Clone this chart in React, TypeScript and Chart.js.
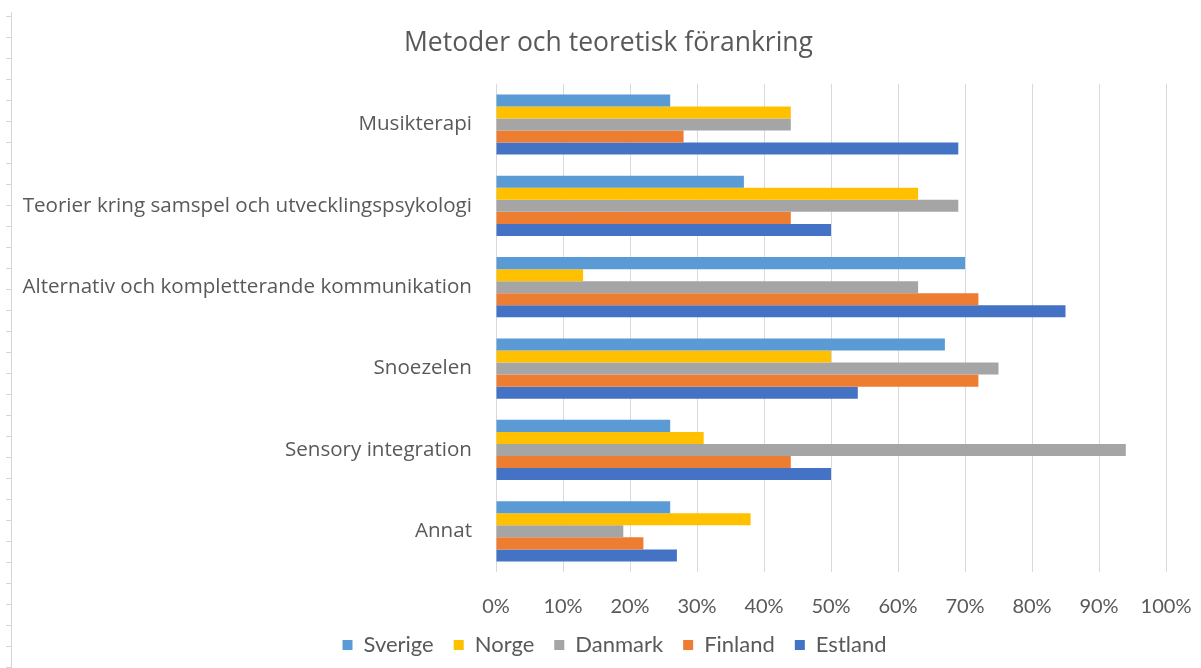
import React, { useEffect, useRef } from "react";
import { Chart, registerables } from "chart.js";

Chart.register(...registerables);

const categories = [
  "Musikterapi",
  "Teorier kring samspel och utvecklingspsykologi",
  "Alternativ och kompletterande kommunikation",
  "Snoezelen",
  "Sensory integration",
  "Annat",
];

const sverige = [26, 37, 70, 67, 26, 26];
const norge = [44, 63, 13, 50, 31, 38];
const danmark = [44, 69, 63, 75, 94, 19];
const finland = [28, 44, 72, 72, 44, 22];
const estland = [69, 50, 85, 54, 50, 27];

const seriesNames = ["Sverige", "Norge", "Danmark", "Finland", "Estland"];
const seriesColors = ["#5B9BD5", "#FFC000", "#A5A5A5", "#ED7D31", "#4472C4"];
const xTicks = [0, 10, 20, 30, 40, 50, 60, 70, 80, 90, 100];

const titleText = "Metoder och teoretisk förankring";
const LATO = "Lato, 'Open Sans', sans-serif";
const OPEN = "'Open Sans', Lato, sans-serif";
const TEXT = "#595959";

const edgePlugin = {
  id: "edgeLine",
  afterLayout(chart: any) {
    // shift legend and title to be centred like the reference
    if (chart.legend) {
      chart.legend.left += 14;
      chart.legend.right += 14;
    }
    if (chart.titleBlock) {
      chart.titleBlock.left += 8;
      chart.titleBlock.right += 8;
    }
  },
  afterDraw(chart: any) {
    const ctx = chart.ctx;
    ctx.save();
    ctx.strokeStyle = "#d6d6d6";
    ctx.lineWidth = 1;
    ctx.beginPath();
    ctx.moveTo(11.5, 12);
    ctx.lineTo(11.5, chart.height);
    for (let y = 16; y < chart.height; y += 21) {
      ctx.moveTo(6, y + 0.5);
      ctx.lineTo(11, y + 0.5);
    }
    ctx.stroke();
    ctx.restore();
  },
};

export default function App() {
  const ref = useRef<HTMLCanvasElement>(null);

  useEffect(() => {
    const prevMargin = document.body.style.margin;
    document.body.style.margin = "0";
    const allData = [sverige, norge, danmark, finland, estland];
    const chart = new Chart(ref.current!, {
      type: "bar",
      data: {
        labels: categories,
        datasets: seriesNames.map((name, i) => ({
          label: name,
          data: allData[i],
          backgroundColor: seriesColors[i],
          borderWidth: 0,
          barPercentage: 1,
          categoryPercentage: 0.74,
        })),
      },
      plugins: [edgePlugin],
      options: {
        indexAxis: "y",
        animation: false,
        responsive: false,
        maintainAspectRatio: false,
        layout: { padding: { left: 0, right: 0, top: 0, bottom: 2 } },
        plugins: {
          title: {
            display: true,
            text: titleText,
            color: TEXT,
            font: { family: OPEN, size: 26.5, weight: "normal" },
            padding: { top: 28, bottom: 24 },
          },
          legend: {
            position: "bottom",
            labels: {
              color: TEXT,
              font: { family: LATO, size: 22 },
              boxWidth: 10,
              boxHeight: 10,
              padding: 20,
            },
          },
          tooltip: { enabled: false },
        },
        scales: {
          x: {
            min: 0,
            max: 100,
            afterBuildTicks(scale: any) {
              scale.ticks = xTicks.map((v) => ({ value: v }));
            },
            afterFit(scale: any) {
              scale.height = 42;
              scale.paddingLeft = 0;
              scale.paddingRight = 35;
            },
            ticks: {
              color: TEXT,
              font: { family: LATO, size: 20 },
              padding: 23,
              callback: (v: any) => v + "%",
            },
            grid: { color: "#d9d9d9", drawTicks: false, lineWidth: 1 },
            border: { display: false },
          },
          y: {
            afterFit(scale: any) {
              scale.width = 496;
            },
            ticks: {
              color: TEXT,
              font: { family: OPEN, size: 20.6 },
              padding: 24,
            },
            grid: { display: false, drawTicks: false },
            border: { display: false },
          },
        },
      },
    });
    return () => {
      chart.destroy();
      document.body.style.margin = prevMargin;
    };
  }, []);

  return (
    <div style={{ position: "absolute", left: 0, top: 0, width: 1201, height: 668, background: "#fff" }}>
      <canvas ref={ref} width={1201} height={668} style={{ width: 1201, height: 668 }} />
    </div>
  );
}
